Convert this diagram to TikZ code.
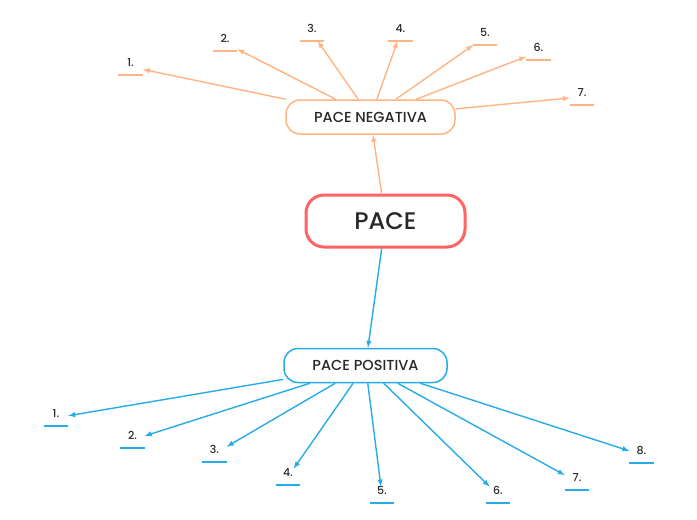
\documentclass[tikz,border=0pt]{standalone}
\usepackage{fontspec}
\setmainfont{Poppins}[UprightFont={* Medium}]
\usepackage{tikz}
\definecolor{pacered}{RGB}{255,99,99}
\definecolor{negorange}{RGB}{255,180,132}
\definecolor{posblue}{RGB}{38,172,232}
\definecolor{textgray}{RGB}{40,40,40}

\begin{document}
\begin{tikzpicture}[
  x=1pt, y=-1pt,
  text=textgray,
  main/.style={rounded corners=18pt, minimum width=159pt, minimum height=52pt,
               draw=pacered, line width=3pt, fill=white, inner sep=0pt,
               font=\fontsize{24}{28}\selectfont},
  branch/.style={rounded corners=14pt, minimum height=34pt, line width=1.5pt,
                 fill=white, inner sep=0pt, font=\fontsize{14.5}{17}\selectfont},
  leaf/.style={anchor=south, minimum width=24pt, inner sep=0pt,
               text height=8pt, text depth=8pt, font=\fontsize{11}{13}\selectfont},
  negarr/.style={-latex, line width=1.4pt, color=negorange},
  posarr/.style={-latex, line width=1.4pt, color=posblue}
]
\fill[white] (0,0) rectangle (697,520);
\useasboundingbox (0,0) rectangle (697,520);

\node[main] (pace) at (385.5,221) {PACE};
\node[branch, draw=negorange, minimum width=169pt] (neg) at (370.5,117) {PACE NEGATIVA};
\node[branch, draw=posblue,   minimum width=163pt] (pos) at (365.5,365.5) {PACE POSITIVA};

\draw[negarr] (pace) -- (neg);
\draw[posarr] (pace) -- (pos);

% negative leaves
\foreach \i/\x/\y in {1/130.5/75, 2/225/51, 3/312/41, 4/400.5/41, 5/485/45, 6/538.5/60, 7/582/105} {
  \node[leaf] (neg\i) at (\x,\y) {\i.};
  \draw[negorange, line width=1.5pt] (neg\i.south west) -- (neg\i.south east);
  \draw[negarr] (neg) -- (neg\i);
}

% positive leaves
\foreach \i/\x/\y in {1/56/426, 2/132.5/448, 3/214.5/462, 4/288/485, 5/382/503, 6/498/503, 7/577/490, 8/641.5/463} {
  \node[leaf] (pos\i) at (\x,\y) {\i.};
  \draw[posblue, line width=1.5pt] (pos\i.south west) -- (pos\i.south east);
  \draw[posarr] (pos) -- (pos\i);
}

\end{tikzpicture}
\end{document}
